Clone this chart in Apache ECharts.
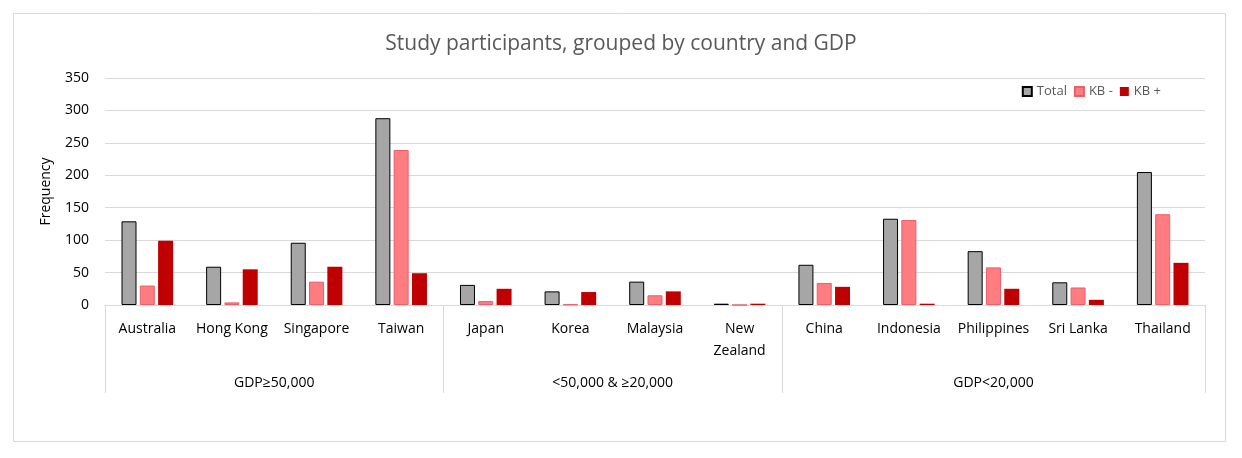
<!DOCTYPE html>
<html lang="en">
<head>
    <meta charset="UTF-8">
    <title>Study participants</title>
    <script src="https://cdn.jsdelivr.net/npm/echarts@6.0.0/dist/echarts.min.js"></script>
    <style>
        html, body { margin: 0; padding: 0; background: #fff; }
    </style>
</head>
<body>
<div id="main" style="width:1242px;height:458px;"></div>
<script type="text/javascript">
    const countries = ['Australia', 'Hong Kong', 'Singapore', 'Taiwan', 'Japan', 'Korea', 'Malaysia',
        'New\nZealand', 'China', 'Indonesia', 'Philippines', 'Sri Lanka', 'Thailand'];
    const groups = ['GDP≥50,000', '<50,000 & ≥20,000', 'GDP<20,000'];
    const groupSizes = [4, 4, 5];
    const total = [129, 59, 96, 288, 31, 21, 36, 2, 62, 133, 83, 35, 205];
    const kbMinus = [30, 4, 36, 239, 6, 1, 15, 0, 34, 131, 58, 27, 140];
    const kbPlus = [99, 55, 59, 49, 25, 20, 21, 2, 28, 2, 25, 8, 65];
    const yTicks = [0, 50, 100, 150, 200, 250, 300, 350];

    // group boundaries and centres in category units
    const bounds = [0];
    groupSizes.forEach(n => bounds.push(bounds[bounds.length - 1] + n));
    const centres = groupSizes.map((n, i) => bounds[i] + n / 2);

    const font = '"Open Sans", "Noto Sans", sans-serif';
    const myChart = echarts.init(document.getElementById('main'));

    const option = {
        backgroundColor: '#fff',
        textStyle: { fontFamily: font },
        title: {
            text: 'Study participants, grouped by country and GDP',
            left: 'center',
            top: 29,
            textStyle: { fontSize: 21, fontWeight: 'normal', color: '#595959', fontFamily: font }
        },
        legend: {
            right: 76,
            top: 80,
            icon: 'rect',
            itemWidth: 9,
            itemHeight: 9,
            itemGap: 7,
            textStyle: { fontSize: 13, color: '#595959' },
            data: ['Total', 'KB -', 'KB +']
        },
        grid: { left: 105, right: 37, top: 78, bottom: 153 },
        graphic: [{
            type: 'rect',
            shape: { x: 13.5, y: 13.5, width: 1212, height: 428 },
            style: { fill: 'none', stroke: '#d9d9d9', lineWidth: 1 },
            silent: true
        }],
        xAxis: [{
            type: 'category',
            data: countries,
            position: 'bottom',
            axisLine: { show: true, lineStyle: { color: '#d9d9d9' } },
            axisTick: { show: false },
            axisLabel: { color: '#000', fontSize: 14, margin: 13, interval: 0, lineHeight: 22 }
        }, {
            type: 'value',
            min: 0,
            max: countries.length,
            position: 'bottom',
            offset: 88,
            axisLine: { show: false },
            splitLine: { show: false },
            axisTick: {
                show: true,
                inside: true,
                length: 88,
                customValues: bounds,
                lineStyle: { color: '#d9d9d9' }
            },
            axisLabel: {
                inside: true,
                margin: 3,
                color: '#000',
                fontSize: 14,
                customValues: centres,
                formatter: v => groups[centres.indexOf(v)] || ''
            }
        }],
        yAxis: {
            type: 'value',
            min: yTicks[0],
            max: yTicks[yTicks.length - 1],
            interval: 50,
            name: 'Frequency',
            nameLocation: 'middle',
            nameGap: 52,
            nameTextStyle: { color: '#000', fontSize: 14 },
            axisLine: { show: false },
            axisTick: { show: false },
            axisLabel: { color: '#000', fontSize: 14, margin: 16 },
            splitLine: { lineStyle: { color: '#d9d9d9' } }
        },
        series: [{
            name: 'Total',
            type: 'bar',
            data: total,
            barWidth: 15,
            barGap: '22%',
            itemStyle: { color: '#a6a6a6', borderColor: '#000', borderWidth: 1 }
        }, {
            name: 'KB -',
            type: 'bar',
            data: kbMinus,
            barWidth: 15,
            itemStyle: { color: '#ff7c80', borderColor: '#e8606a', borderWidth: 1 }
        }, {
            name: 'KB +',
            type: 'bar',
            data: kbPlus,
            barWidth: 15,
            itemStyle: { color: '#c00000' }
        }]
    };

    myChart.setOption(option);
</script>
</body>
</html>
